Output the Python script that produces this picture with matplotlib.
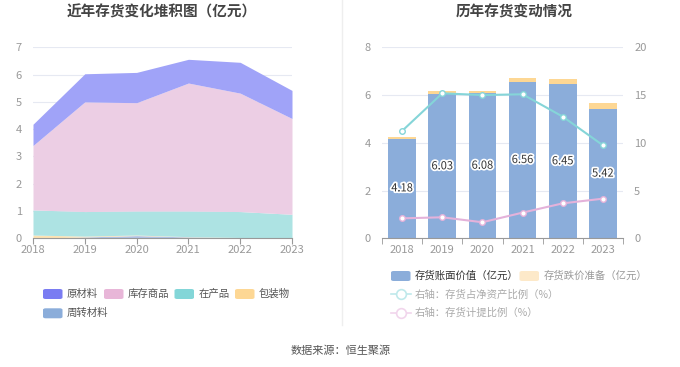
import matplotlib.pyplot as plt
import matplotlib.patheffects as pe
from matplotlib.patches import FancyBboxPatch
from matplotlib.lines import Line2D
import numpy as np

plt.rcParams['font.family'] = ['Noto Sans CJK SC', 'DejaVu Sans']

years = ['2018', '2019', '2020', '2021', '2022', '2023']

# left chart: stacked areas (亿元), bottom to top
zhouzhuan = [0.00, 0.05, 0.10, 0.05, 0.02, 0.01]
baozhuang = [0.12, 0.03, 0.02, 0.01, 0.01, 0.01]
zaichanpin = [0.92, 0.90, 0.88, 0.94, 0.95, 0.86]
kucun = [2.36, 4.02, 3.97, 4.69, 4.34, 3.51]
yuancailiao = [0.78, 1.03, 1.11, 0.87, 1.13, 1.03]

# right chart
book_value = [4.18, 6.03, 6.08, 6.56, 6.45, 5.42]
reserve = [0.07, 0.13, 0.09, 0.17, 0.23, 0.24]
ratio_net_assets = [11.24, 15.18, 15.0, 15.08, 12.74, 9.74]
ratio_provision = [2.09, 2.2, 1.68, 2.69, 3.66, 4.15]

tick_c = '#999999'
grid_c = '#e6e9f2'

fig = plt.figure(figsize=(6.8, 3.67), dpi=100)

# ---------- left chart ----------
ax1 = fig.add_axes([33 / 680, 1 - 238.3 / 367, 259 / 680, 191 / 367])
x = np.arange(len(years))
layers = [
    (zhouzhuan, '#a9bde6', 0.9),
    (baozhuang, '#fde3b3', 1.0),
    (zaichanpin, '#ade3e3', 1.0),
    (kucun, '#ecceе4' if False else '#eccee4', 1.0),
    (yuancailiao, '#a0a3f8', 1.0),
]
base = np.zeros(len(years))
for vals, col, a in layers:
    top = base + np.array(vals)
    ax1.fill_between(x, base, top, color=col, alpha=a, linewidth=0, zorder=2)
    base = top
ax1.set_xlim(0, len(years) - 1)
ax1.set_ylim(0, 7)
ax1.set_yticks(range(0, 8))
ax1.set_xticks(x)
ax1.set_xticklabels(years)
ax1.grid(axis='y', color=grid_c, linewidth=0.8, zorder=0)
for s in ['top', 'right', 'left']:
    ax1.spines[s].set_visible(False)
ax1.spines['bottom'].set_color('#999999')
ax1.tick_params(axis='y', length=0, labelsize=8, labelcolor=tick_c, pad=8)
ax1.tick_params(axis='x', length=4, color='#999999', labelsize=8, labelcolor=tick_c, pad=1)

# ---------- right chart ----------
ax2 = fig.add_axes([382 / 680, 1 - 238.3 / 367, 241 / 680, 191 / 367])
bw = 0.69
ax2.bar(x, book_value, width=bw, color='#8badda', zorder=2)
ax2.bar(x, reserve, bottom=book_value, width=bw, color='#fdd794', zorder=2)
for xi, v in zip(x, book_value):
    ax2.text(xi, v / 2, f'{v:.2f}', ha='center', va='center', fontsize=8, color='#333333',
             path_effects=[pe.withStroke(linewidth=2.5, foreground='white')], zorder=5)
ax2.set_xlim(-0.5, len(years) - 0.5)
ax2.set_ylim(0, 8)
ax2.set_yticks([0, 2, 4, 6, 8])
ax2.set_xticks(x)
ax2.set_xticklabels(years)
ax2.set_xticks(np.arange(-0.5, len(years)), minor=True)
ax2.grid(axis='y', color=grid_c, linewidth=0.8, zorder=0)
for s in ['top', 'right', 'left']:
    ax2.spines[s].set_visible(False)
ax2.spines['bottom'].set_color('#999999')
ax2.tick_params(axis='y', length=0, labelsize=8, labelcolor=tick_c, pad=8)
ax2.tick_params(axis='x', which='major', length=0, labelsize=8, labelcolor=tick_c, pad=5)
ax2.tick_params(axis='x', which='minor', length=4, color='#999999')

ax3 = ax2.twinx()
ax3.plot(x, ratio_net_assets, color='#85d5d8', linewidth=1.5, marker='o', markersize=4,
         markerfacecolor='white', markeredgecolor='#85d5d8', zorder=4)
ax3.plot(x, ratio_provision, color='#e4b2da', linewidth=1.5, marker='o', markersize=4,
         markerfacecolor='white', markeredgecolor='#e4b2da', zorder=4)
ax3.set_ylim(0, 20)
ax3.set_yticks([0, 5, 10, 15, 20])
for s in ['top', 'right', 'left', 'bottom']:
    ax3.spines[s].set_visible(False)
ax3.tick_params(axis='y', length=0, labelsize=8, labelcolor=tick_c, pad=8)

# ---------- titles, divider, source ----------
fig.text(162 / 680, 1 - 12 / 367, '近年存货变化堆积图（亿元）', ha='center', va='center',
         fontsize=10.5, fontweight='bold', color='#444444')
fig.text(514 / 680, 1 - 12 / 367, '历年存货变动情况', ha='center', va='center',
         fontsize=10.5, fontweight='bold', color='#444444')
fig.add_artist(Line2D([342 / 680, 342 / 680], [1 - 325 / 367, 1.0], color='#eeeeee', linewidth=1))
fig.text(341 / 680, 1 - 351 / 367, '数据来源：恒生聚源', ha='center', va='center',
         fontsize=8, color='#555555')


def patch(x0, yc, col):
    fig.add_artist(FancyBboxPatch((x0 / 680, 1 - (yc + 5) / 367), 19.5 / 680, 10 / 367,
                                  boxstyle='round,pad=0,rounding_size=0.004',
                                  transform=fig.transFigure, facecolor=col, edgecolor='none'))


def label(x0, yc, txt, col='#555555'):
    fig.text(x0 / 680, 1 - yc / 367, txt, ha='left', va='center', fontsize=7.5, color=col)


# left legend
left_items = [(43, 294, '#7a7cf2', '原材料', 66.5), (104, 294, '#e8b6d8', '库存商品', 127.5),
              (174.5, 294, '#83d6d8', '在产品', 198.5), (235, 294, '#fdd794', '包装物', 259),
              (43, 313.3, '#8badda', '周转材料', 66.5)]
for px, py, col, txt, tx in left_items:
    patch(px, py, col)
    label(tx, py, txt)

# right legend
patch(391, 276, '#8badda')
label(415, 276, '存货账面价值（亿元）', '#333333')
patch(519.5, 276, '#fde9c9')
label(543.5, 276, '存货跌价准备（亿元）', '#999999')
for yc, col, txt in [(294.3, '#bfe9eb', '右轴：存货占净资产比例（%）'),
                     (312.7, '#f1d5ec', '右轴：存货计提比例（%）')]:
    fig.add_artist(Line2D([391 / 680, 411 / 680], [1 - yc / 367] * 2, color=col, linewidth=1.2))
    fig.add_artist(Line2D([401 / 680], [1 - yc / 367], color=col, marker='o', markersize=7,
                          markerfacecolor='white', markeredgecolor=col, markeredgewidth=1.2))
    label(415, yc, txt, '#aaaaaa')

fig.savefig('out.png', dpi=100)
